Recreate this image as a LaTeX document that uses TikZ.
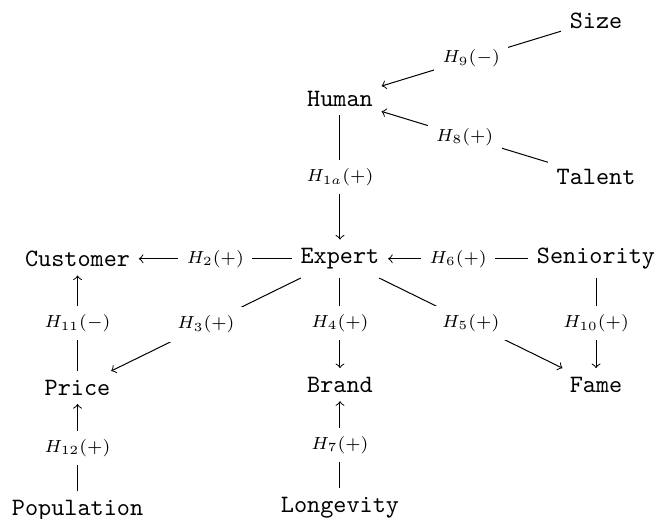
\documentclass[tikz,border=0pt]{standalone}
\usepackage{amsmath}
\usepackage{tikz}
\usetikzlibrary{positioning}

\begin{document}
\begin{tikzpicture}[node distance=1.77cm and 3.6cm, on grid,
  var/.style={font=\ttfamily},
  hyp/.style={fill=white, font=\scriptsize}]

\useasboundingbox (-4.78,-3.658) rectangle (4.471,3.638);

% Top
\node [var] (expert) {Expert};
\node [var, above=2.25cm of expert] (human) {Human};
\node [var, above right=1.1cm and 3.6cm of human] (size) {Size};
\node [var, below right=1.1cm and 3.6cm of human] (talent) {Talent};

% Middle row
\node [var, base left=3.69cm of expert] (customer) {Customer};
\node [var, base right=of expert] (seniority) {Seniority};

% Row below
\node [var, below=1.81cm of customer] (price) {Price};
\node [var, below=of expert] (brand) {Brand};
\node [var, below=of seniority] (fame) {Fame};

% Bottom row
\node [var, below=1.73cm of price] (population) {Population};
\node [var, below=1.73cm of brand] (longevity) {Longevity};

% Hypotheses
\draw [->] (size) -- node [hyp] {$H_9(-)$} (human);
\draw [->] (talent) -- node [hyp] {$H_8(+)$} (human);
\draw [->] (human) -- node [hyp] {$H_{1a}(+)$} (expert);
\draw [->] (expert) -- node [hyp] {$H_2(+)$} (customer);
\draw [->] (seniority) -- node [hyp] {$H_6(+)$} (expert);
\draw [->] (expert) -- node [hyp] {$H_3(+)$} (price);
\draw [->] (expert) -- node [hyp] {$H_4(+)$} (brand);
\draw [->] (expert) -- node [hyp] {$H_5(+)$} (fame);
\draw [->] (seniority) -- node [hyp] {$H_{10}(+)$} (fame);
\draw [->] (price) -- node [hyp] {$H_{11}(-)$} (customer);
\draw [->] (population) -- node [hyp] {$H_{12}(+)$} (price);
\draw [->] (longevity) -- node [hyp] {$H_7(+)$} (brand);

\end{tikzpicture}
\end{document}
